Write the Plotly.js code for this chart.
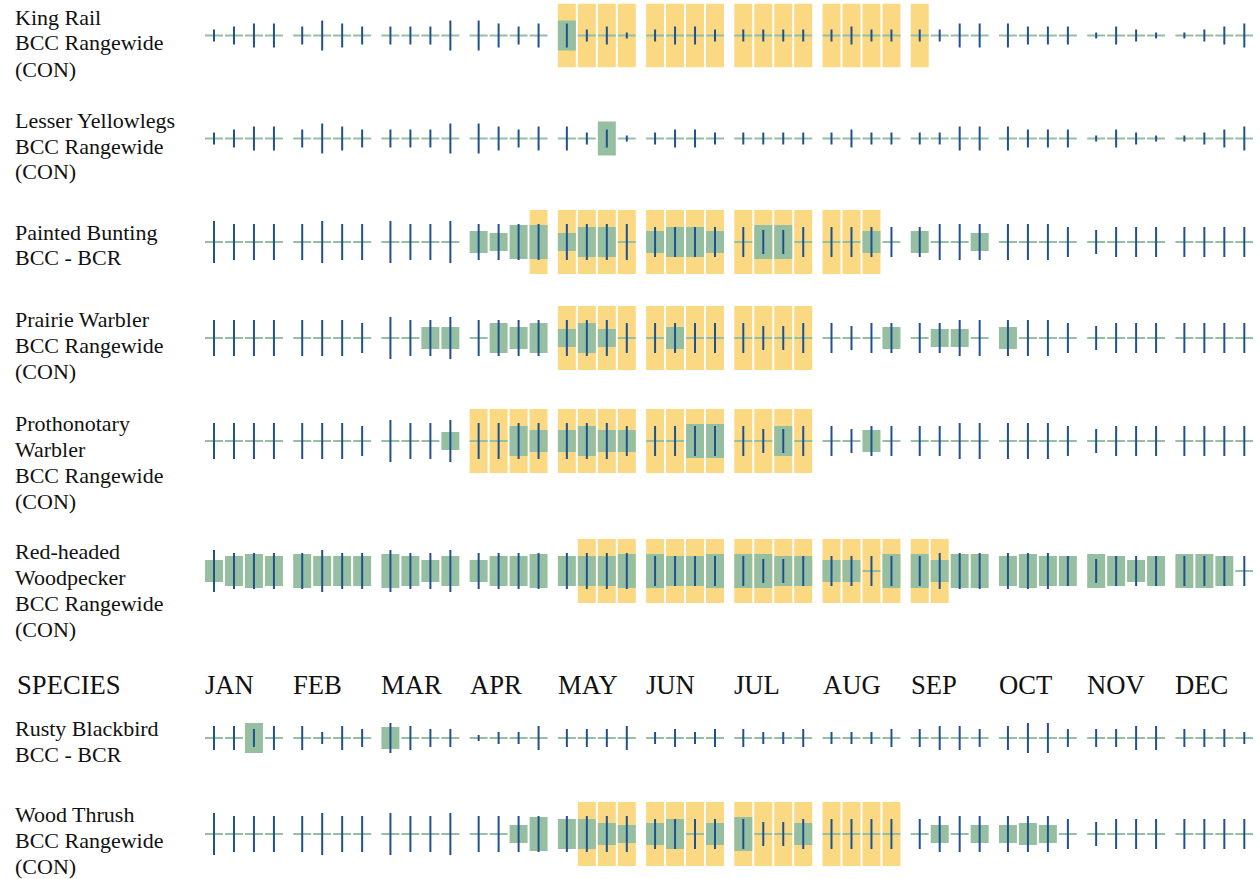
<!DOCTYPE html>
<html>
<head>
<meta charset="utf-8">
<script src="https://cdn.plot.ly/plotly-3.0.1.min.js"></script>
<style>html,body{margin:0;padding:0;background:#fff;}#chart{width:1260px;height:879px;}</style>
</head>
<body>
<div id="chart"></div>
<script>
// ---------------- DATA ----------------
const months = ["JAN","FEB","MAR","APR","MAY","JUN","JUL","AUG","SEP","OCT","NOV","DEC"];
const headerLabel = "SPECIES";

const speciesLabels = [
  ["King Rail","BCC Rangewide","(CON)"],
  ["Lesser Yellowlegs","BCC Rangewide","(CON)"],
  ["Painted Bunting","BCC - BCR"],
  ["Prairie Warbler","BCC Rangewide","(CON)"],
  ["Prothonotary","Warbler","BCC Rangewide","(CON)"],
  ["Red-headed","Woodpecker","BCC Rangewide","(CON)"],
  ["Rusty Blackbird","BCC - BCR"],
  ["Wood Thrush","BCC Rangewide","(CON)"]
];

// survey effort level per week (48 weeks, 4 per month)
const effortKingRail      = [2,3,4,4, 3,5,4,3, 3,3,3,5, 5,4,3,4, 4,2,3,1, 2,3,3,2, 2,2,2,2, 2,3,2,2, 2,2,4,4, 4,3,3,3, 1,3,2,1, 1,2,3,4];
const effortLesserYellowlegs = [2,3,4,4, 3,5,4,3, 3,3,3,5, 5,4,3,4, 4,2,3,1, 2,3,3,2, 2,2,2,2, 2,3,2,2, 2,2,4,4, 4,3,3,3, 1,3,2,1, 1,2,3,4];
const effortPaintedBunting = [7,6,6,6, 6,7,6,6, 7,6,6,7, 6,6,6,6, 6,6,6,6, 5,5,5,5, 5,4,4,5, 5,5,5,5, 5,6,6,6, 6,6,6,5, 4,5,5,5, 5,5,5,5];
const effortPrairieWarbler = [6,6,6,6, 6,6,6,5, 7,6,6,7, 6,6,6,6, 6,6,6,5, 5,5,5,5, 5,4,4,5, 5,4,5,5, 5,5,6,6, 6,6,6,5, 4,5,5,5, 5,5,5,5];
const effortProthonotary  = [6,6,6,6, 6,6,6,5, 7,6,6,7, 6,6,6,6, 6,6,6,5, 5,5,5,5, 5,4,4,5, 5,4,5,5, 5,5,6,6, 6,6,6,5, 4,5,5,5, 5,5,5,5];
const effortRedheaded     = [7,6,6,6, 6,7,6,6, 7,6,6,7, 6,6,6,6, 6,6,6,6, 5,5,5,5, 5,4,4,5, 5,5,5,5, 5,6,6,6, 6,6,6,5, 4,5,5,5, 5,5,5,5];
const effortRustyBlackbird = [4,4,3,4, 4,2,4,3, 5,4,3,3, 1,2,2,4, 3,3,3,4, 2,3,2,3, 3,2,2,3, 2,2,2,3, 3,4,4,3, 4,5,5,3, 3,3,4,4, 3,3,3,2];
const effortWoodThrush    = [7,6,6,6, 6,7,6,6, 7,6,6,7, 6,6,6,6, 6,6,6,6, 5,5,5,5, 5,4,4,5, 5,5,5,5, 5,6,6,6, 6,6,6,5, 4,5,5,5, 5,5,5,5];

// probability of presence level per week (0 = none)
const presenceKingRail      = [0,0,0,0, 0,0,0,0, 0,0,0,0, 0,0,0,0, 7,0,0,0, 0,0,0,0, 0,0,0,0, 0,0,0,0, 0,0,0,0, 0,0,0,0, 0,0,0,0, 0,0,0,0];
const presenceLesserYellowlegs = [0,0,0,0, 0,0,0,0, 0,0,0,0, 0,0,0,0, 0,0,8,0, 0,0,0,0, 0,0,0,0, 0,0,0,0, 0,0,0,0, 0,0,0,0, 0,0,0,0, 0,0,0,0];
const presencePaintedBunting = [0,0,0,0, 0,0,0,0, 0,0,0,0, 5,4,8,8, 4,7,7,0, 5,7,7,5, 0,8,8,0, 0,0,5,0, 5,0,0,4, 0,0,0,0, 0,0,0,0, 0,0,0,0];
const presencePrairieWarbler = [0,0,0,0, 0,0,0,0, 0,0,5,5, 0,7,5,7, 4,7,4,0, 0,5,0,0, 0,0,0,0, 0,0,0,5, 0,4,4,0, 5,0,0,0, 0,0,0,0, 0,0,0,0];
const presenceProthonotary  = [0,0,0,0, 0,0,0,0, 0,0,0,4, 0,0,7,5, 5,7,5,5, 0,0,8,8, 0,0,7,0, 0,0,5,0, 0,0,0,0, 0,0,0,0, 0,0,0,0, 0,0,0,0];
const presenceRedheaded     = [5,7,8,7, 8,7,7,7, 8,7,5,7, 5,7,7,8, 7,7,7,8, 8,7,7,8, 8,8,7,7, 5,5,0,8, 8,5,8,8, 7,8,7,7, 8,7,5,7, 8,8,7,0];
const presenceRustyBlackbird = [0,0,7,0, 0,0,0,0, 5,0,0,0, 0,0,0,0, 0,0,0,0, 0,0,0,0, 0,0,0,0, 0,0,0,0, 0,0,0,0, 0,0,0,0, 0,0,0,0, 0,0,0,0];
const presenceWoodThrush    = [0,0,0,0, 0,0,0,0, 0,0,0,0, 0,0,4,8, 7,7,5,4, 5,7,0,5, 8,0,0,5, 0,0,0,0, 0,4,0,4, 4,5,4,0, 0,0,0,0, 0,0,0,0];

// breeding season (1 = in breeding season)
const breedingKingRail      = [0,0,0,0, 0,0,0,0, 0,0,0,0, 0,0,0,0, 1,1,1,1, 1,1,1,1, 1,1,1,1, 1,1,1,1, 1,0,0,0, 0,0,0,0, 0,0,0,0, 0,0,0,0];
const breedingLesserYellowlegs = [0,0,0,0, 0,0,0,0, 0,0,0,0, 0,0,0,0, 0,0,0,0, 0,0,0,0, 0,0,0,0, 0,0,0,0, 0,0,0,0, 0,0,0,0, 0,0,0,0, 0,0,0,0];
const breedingPaintedBunting = [0,0,0,0, 0,0,0,0, 0,0,0,0, 0,0,0,1, 1,1,1,1, 1,1,1,1, 1,1,1,1, 1,1,1,0, 0,0,0,0, 0,0,0,0, 0,0,0,0, 0,0,0,0];
const breedingPrairieWarbler = [0,0,0,0, 0,0,0,0, 0,0,0,0, 0,0,0,0, 1,1,1,1, 1,1,1,1, 1,1,1,1, 0,0,0,0, 0,0,0,0, 0,0,0,0, 0,0,0,0, 0,0,0,0];
const breedingProthonotary  = [0,0,0,0, 0,0,0,0, 0,0,0,0, 1,1,1,1, 1,1,1,1, 1,1,1,1, 1,1,1,1, 0,0,0,0, 0,0,0,0, 0,0,0,0, 0,0,0,0, 0,0,0,0];
const breedingRedheaded     = [0,0,0,0, 0,0,0,0, 0,0,0,0, 0,0,0,0, 0,1,1,1, 1,1,1,1, 1,1,1,1, 1,1,1,1, 1,1,0,0, 0,0,0,0, 0,0,0,0, 0,0,0,0];
const breedingRustyBlackbird = [0,0,0,0, 0,0,0,0, 0,0,0,0, 0,0,0,0, 0,0,0,0, 0,0,0,0, 0,0,0,0, 0,0,0,0, 0,0,0,0, 0,0,0,0, 0,0,0,0, 0,0,0,0];
const breedingWoodThrush    = [0,0,0,0, 0,0,0,0, 0,0,0,0, 0,0,0,0, 0,1,1,1, 1,1,1,1, 1,1,1,1, 1,1,1,1, 0,0,0,0, 0,0,0,0, 0,0,0,0, 0,0,0,0];

const effortRows   = [effortKingRail, effortLesserYellowlegs, effortPaintedBunting, effortPrairieWarbler, effortProthonotary, effortRedheaded, effortRustyBlackbird, effortWoodThrush];
const presenceRows = [presenceKingRail, presenceLesserYellowlegs, presencePaintedBunting, presencePrairieWarbler, presenceProthonotary, presenceRedheaded, presenceRustyBlackbird, presenceWoodThrush];
const breedingRows = [breedingKingRail, breedingLesserYellowlegs, breedingPaintedBunting, breedingPrairieWarbler, breedingProthonotary, breedingRedheaded, breedingRustyBlackbird, breedingWoodThrush];

// ---------------- LAYOUT / STYLE ----------------
const W = 1260, H = 879;
const ML = 204.5, MR = 6.5;
const PLOT_W = W - ML - MR;
const UNIT_PX = 20;            // one week slot
const MONTH_STEP = 4.415;      // month spacing in week units
const CELL_W = 0.9;
const LINE_W = 0.1;
const ROW_CENTER_PX = [35.5, 138.5, 242, 338, 441, 571, 738, 834];
const LABEL_FIRST_PX = [17, 120, 232, 319, 423, 551, 728, 814];
const LABEL_LINE_PX = 26;
const HEADER_PX = 685;
const HALF = 32;               // half-height of each row band (px units)
const GREEN_BASE = 2, GREEN_STEP = 4, EFFORT_STEP = 6;

const YELLOW = "#fad982";
const GREEN = "#96bfa1";
const BLUE = "#21508e";
const FONT = "Liberation Serif, Times New Roman, serif";

const weekX = [];
for (let m = 0; m < 12; m++) for (let w = 0; w < 4; w++) weekX.push(m * MONTH_STEP + w + CELL_W / 2);

const traces = [];
const layout = {
  width: W, height: H,
  margin: {l: ML, r: MR, t: 0, b: 0, pad: 0},
  paper_bgcolor: "#ffffff", plot_bgcolor: "rgba(0,0,0,0)",
  showlegend: false,
  barmode: "overlay",
  xaxis: {range: [0, PLOT_W / UNIT_PX], visible: false, fixedrange: true, showgrid: false, zeroline: false},
  annotations: []
};

ROW_CENTER_PX.forEach((c, i) => {
  const ax = i === 0 ? "y" : "y" + (i + 1);
  const key = i === 0 ? "yaxis" : "yaxis" + (i + 1);
  layout[key] = {
    domain: [1 - (c + HALF) / H, 1 - (c - HALF) / H],
    range: [-HALF, HALF], visible: false, fixedrange: true,
    showgrid: false, zeroline: false, anchor: "x"
  };
  // breeding season
  const bx = [], by = [], bb = [];
  breedingRows[i].forEach((v, j) => { if (v) { bx.push(weekX[j]); by.push(2 * HALF); bb.push(-HALF); } });
  if (bx.length) traces.push({type: "bar", x: bx, y: by, base: bb, width: CELL_W, xaxis: "x", yaxis: ax,
    marker: {color: YELLOW, line: {width: 0}}, hoverinfo: "skip"});
  // probability of presence (level 0 => thin baseline)
  const gh = presenceRows[i].map(p => GREEN_BASE + GREEN_STEP * p);
  traces.push({type: "bar", x: weekX, y: gh, base: gh.map(h => -h / 2), width: CELL_W, xaxis: "x", yaxis: ax,
    marker: {color: GREEN, line: {width: 0}}, hoverinfo: "skip"});
  // survey effort
  const eh = effortRows[i].map(e => EFFORT_STEP * e);
  traces.push({type: "bar", x: weekX, y: eh, base: eh.map(h => -h / 2), width: LINE_W, xaxis: "x", yaxis: ax,
    marker: {color: BLUE, line: {width: 0}}, hoverinfo: "skip"});
  // labels
  speciesLabels[i].forEach((t, k) => {
    layout.annotations.push({
      text: t, xref: "paper", yref: "paper",
      x: (14 - ML) / PLOT_W, y: 1 - (LABEL_FIRST_PX[i] + k * LABEL_LINE_PX) / H,
      xanchor: "left", yanchor: "middle", showarrow: false, borderpad: 0, borderwidth: 0,
      font: {family: FONT, size: 22, color: "#111111"}
    });
  });
});

// header row
layout.annotations.push({
  text: headerLabel, xref: "paper", yref: "paper",
  x: (16 - ML) / PLOT_W, y: 1 - HEADER_PX / H, xanchor: "left", yanchor: "middle",
  showarrow: false, borderpad: 0, borderwidth: 0,
  font: {family: FONT, size: 26.67, color: "#111111"}
});
months.forEach((mn, m) => {
  layout.annotations.push({
    text: mn, xref: "x", yref: "paper",
    x: m * MONTH_STEP, xshift: 0, y: 1 - HEADER_PX / H, xanchor: "left", yanchor: "middle",
    showarrow: false, borderpad: 0, borderwidth: 0,
    font: {family: FONT, size: 26.67, color: "#111111"}
  });
});

Plotly.newPlot("chart", traces, layout, {staticPlot: true, displayModeBar: false});
</script>
</body>
</html>
